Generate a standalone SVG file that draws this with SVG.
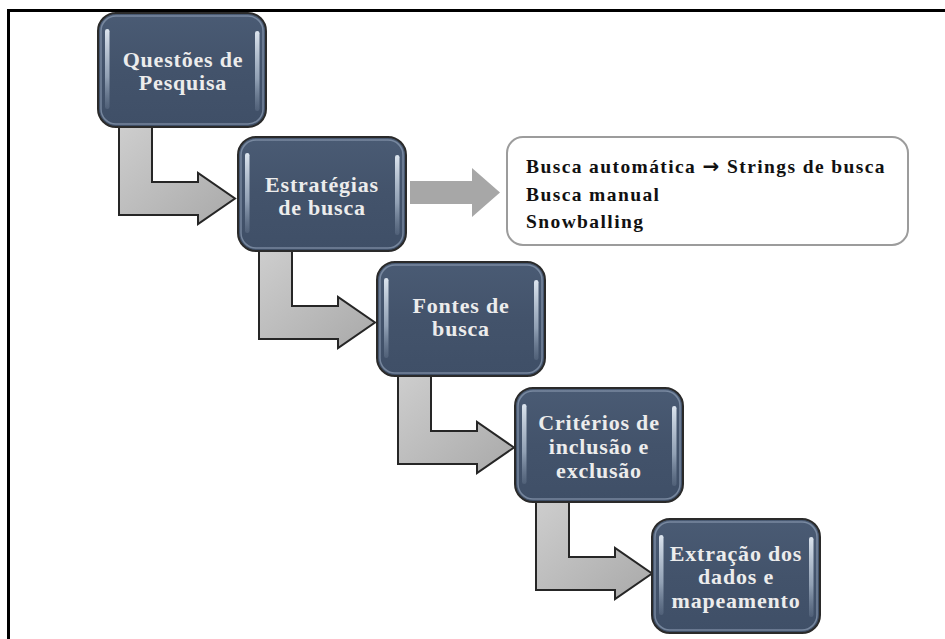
<svg xmlns="http://www.w3.org/2000/svg" width="945" height="639" viewBox="0 0 945 639">
  <style>
    .frame { stroke: #000; stroke-width: 3; fill: none; }
    .node-body { fill: url(#nodeFill); stroke: #2a2a2a; stroke-width: 2; }
    .node-rim { fill: none; stroke: #8d9db3; stroke-width: 1.5; opacity: 0.7; }
    .shine { fill: url(#shineFill); }
    .node-text { font-family: "Liberation Serif", "Times New Roman", serif; font-weight: bold; font-size: 22px; fill: #ececec; text-anchor: middle; letter-spacing: 0.8px; }
    .step-arrow { fill: url(#arrowFill); stroke: #262626; stroke-width: 2; stroke-linejoin: miter; }
    .side-arrow { fill: #a7a7a7; }
    .note-box { fill: #fff; stroke: #9c9c9c; stroke-width: 2; }
    .note-text { font-family: "Liberation Serif", "Times New Roman", serif; font-weight: bold; font-size: 19.5px; fill: #111; letter-spacing: 1.4px; }
    .note-arrow { font-family: "DejaVu Sans", sans-serif; font-weight: bold; font-size: 20px; }
  </style>
  <defs>
    <linearGradient id="nodeFill" x1="0" y1="0" x2="0" y2="1">
      <stop offset="0" stop-color="#4a5b74"/>
      <stop offset="0.5" stop-color="#43536b"/>
      <stop offset="1" stop-color="#3f4f67"/>
    </linearGradient>
    <linearGradient id="shineFill" x1="0" y1="0" x2="0" y2="1">
      <stop offset="0" stop-color="#e4ecf5" stop-opacity="0.95"/>
      <stop offset="0.6" stop-color="#b3c2d4" stop-opacity="0.7"/>
      <stop offset="1" stop-color="#8fa0b6" stop-opacity="0.2"/>
    </linearGradient>
    <linearGradient id="arrowFill" x1="0" y1="0" x2="1" y2="1">
      <stop offset="0" stop-color="#cfcfcf"/>
      <stop offset="1" stop-color="#a9a9a9"/>
    </linearGradient>
    <!-- bent arrow, coordinates relative to the top-left corner of its source node -->
    <path id="bentArrow" class="step-arrow" d="M21,106 H54 V169 H100 V160 L137,185.5 L100,211 V202 H21 Z"/>
    <!-- glossy box, 168 x 114 -->
    <g id="box">
      <rect class="node-body" x="0" y="0" width="168" height="114" rx="18" ry="18"/>
      <rect class="node-rim" x="3" y="3" width="162" height="108" rx="15" ry="15"/>
      <rect class="shine" x="7" y="16" width="4.5" height="80" rx="2.2"/>
      <rect class="shine" x="157" y="18" width="4.5" height="80" rx="2.2"/>
    </g>
  </defs>

  <!-- figure frame -->
  <path class="frame" d="M8.5,639 V10.5 H945"/>

  <g id="connectors">
    <use href="#bentArrow" transform="translate(98,13)"/>
    <use href="#bentArrow" transform="translate(238,137)"/>
    <use href="#bentArrow" transform="translate(377,262)"/>
    <use href="#bentArrow" transform="translate(515,388)"/>
    <path class="side-arrow" d="M410,181 H472 V168 L500,192.5 L472,217 V204 H410 Z"/>
  </g>

  <g id="questoes">
    <use href="#box" transform="translate(98,13)"/>
    <text class="node-text" x="183" y="67">Questões de</text>
    <text class="node-text" x="183" y="90">Pesquisa</text>
  </g>

  <g id="estrategias">
    <use href="#box" transform="translate(238,137)"/>
    <text class="node-text" x="322" y="192">Estratégias</text>
    <text class="node-text" x="322" y="215">de busca</text>
  </g>

  <g id="fontes">
    <use href="#box" transform="translate(377,262)"/>
    <text class="node-text" x="461" y="313">Fontes de</text>
    <text class="node-text" x="461" y="336">busca</text>
  </g>

  <g id="criterios">
    <use href="#box" transform="translate(515,388)"/>
    <text class="node-text" x="599" y="430">Critérios de</text>
    <text class="node-text" x="599" y="454">inclusão e</text>
    <text class="node-text" x="599" y="478">exclusão</text>
  </g>

  <g id="extracao">
    <use href="#box" transform="translate(652,519)"/>
    <text class="node-text" x="736" y="561">Extração dos</text>
    <text class="node-text" x="736" y="584">dados e</text>
    <text class="node-text" x="736" y="608">mapeamento</text>
  </g>

  <g id="estrategias-detalhe">
    <rect class="note-box" x="507" y="137" width="401" height="108" rx="16" ry="16"/>
    <text class="note-text" x="526" y="173">Busca automática <tspan class="note-arrow">→</tspan> Strings de busca</text>
    <text class="note-text" x="526" y="201">Busca manual</text>
    <text class="note-text" x="526" y="228">Snowballing</text>
  </g>
</svg>
